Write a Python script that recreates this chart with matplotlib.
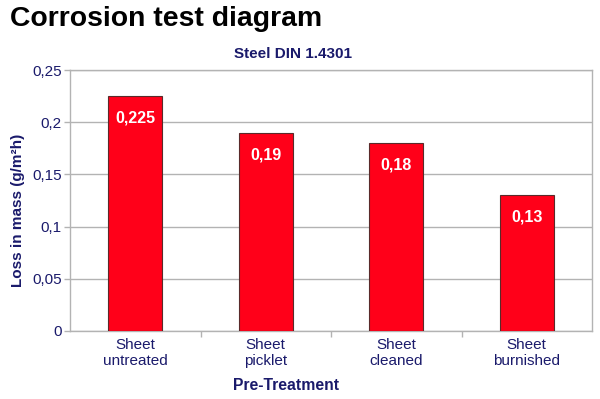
import matplotlib
matplotlib.use("Agg")
import matplotlib.pyplot as plt

categories = ["Sheet\nuntreated", "Sheet\npicklet", "Sheet\ncleaned", "Sheet\nburnished"]
values = [0.225, 0.19, 0.18, 0.13]
value_labels = ["0,225", "0,19", "0,18", "0,13"]
yticks = [0, 0.05, 0.1, 0.15, 0.2, 0.25]
ytick_labels = ["0", "0,05", "0,1", "0,15", "0,2", "0,25"]

navy = "#1a1a6b"
red = "#ff0019"
grid = "#b3b3b3"

plt.rcParams['font.family'] = ['Liberation Sans', 'DejaVu Sans']

fig = plt.figure(figsize=(6, 3.99), dpi=100)
ax = fig.add_axes([70/600, 1-331/399, 522/600, 261/399])

x = list(range(len(categories)))
ax.bar(x, values, width=0.41, color=red, edgecolor="#5a2a2a", linewidth=0.8, zorder=3)
for xi, v, lab in zip(x, values, value_labels):
    ax.annotate(lab, (xi, v), xytext=(0, -22), textcoords="offset pixels",
                ha="center", va="center", color="white", fontsize=11.5, fontweight="bold", zorder=4)

ax.set_xlim(-0.5, len(categories) - 0.5)
ax.set_ylim(0, 0.25)
ax.set_yticks(yticks)
ax.set_yticklabels(ytick_labels)
ax.set_xticks(x)
ax.set_xticklabels(categories, color=navy, fontsize=11)
ax.set_xticks([0.5, 1.5, 2.5], minor=True)
ax.tick_params(axis="x", which="major", length=0, pad=5)
ax.tick_params(axis="x", which="minor", length=4, color=grid, width=1)
ax.tick_params(axis="y", length=4, color=grid, width=1, labelsize=11, labelcolor=navy, pad=2)

ax.yaxis.grid(True, color=grid, linewidth=1, zorder=0)
for s in ax.spines.values():
    s.set_color(grid)
    s.set_linewidth(1)

ax.set_ylabel("Loss in mass (g/m²h)", color=navy, fontsize=11, fontweight="bold", va="center")
ax.yaxis.set_label_coords((18-70)/522, (331-210)/261)
ax.set_xlabel("Pre-Treatment", color=navy, fontsize=11.3, fontweight="bold", va="center")
ax.xaxis.set_label_coords((286-70)/522, (331-386)/261)

fig.text(10/600, 1-6/399, "Corrosion test diagram", fontsize=20.4, fontweight="bold",
         color="black", ha="left", va="top")
fig.text(293/600, 1-54/399, "Steel DIN 1.4301", fontsize=11, fontweight="bold",
         color=navy, ha="center", va="center")

fig.savefig("out.png", dpi=100)
